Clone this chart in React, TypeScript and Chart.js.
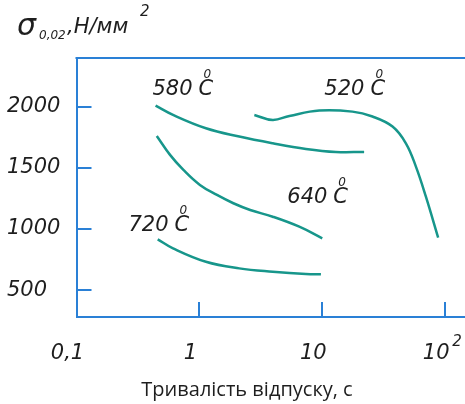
import React, { useEffect, useRef } from 'react';
import { Chart, registerables } from 'chart.js';

Chart.register(...registerables);

// ---- data ----
const xTickValues = [0.1, 1, 10, 100];
const xTickLabels = ['0,1', '1', '10', '10'];
const yTickValues = [500, 1000, 1500, 2000];
const yTickLabels = ['500', '1000', '1500', '2000'];

const c580x = [0.44, 0.61, 1.13, 2.11, 3.95, 7.36, 12.9, 21.9];
const c580y = [2010, 1934, 1825, 1757, 1702, 1656, 1631, 1631];

const c520x = [2.8, 3.95, 5.4, 9.46, 17.6, 25.6, 37.3, 47.9, 57.8, 69.7, 87.7];
const c520y = [1934, 1893, 1926, 1970, 1961, 1921, 1839, 1702, 1511, 1265, 929];

const c640x = [0.45, 0.577, 0.741, 1.01, 1.39, 1.89, 2.59, 3.95, 6.5, 10.0];
const c640y = [1762, 1607, 1484, 1361, 1279, 1211, 1156, 1101, 1019, 924];

const c720x = [0.458, 0.61, 1.13, 2.11, 3.95, 7.36, 9.75];
const c720y = [916, 842, 732, 678, 650, 631, 629];

const curveLabels = ['580', '520', '640', '720'];
const labelX = [0.415, 10.4, 5.19, 0.265];
const labelY = [2098, 2098, 1213, 984];

const yTitleMain = 'σ';
const yTitleSub = '0,02';
const yTitleUnit = ',Н/мм';
const yTitleSup = '2';
const xTitle = 'Тривалість відпуску, с';

const AXIS = '#2a80d6';
const CURVE = '#17968b';
const TEXT = '#1e1e1e';
const ITALIC = 'italic 21px "DejaVu Sans"';

const toPts = (xs: number[], ys: number[]) => xs.map((x, i) => ({ x, y: ys[i] }));

const decorPlugin = {
  id: 'decor',
  afterDraw(chart: any) {
    const { ctx, chartArea, scales } = chart;
    const xs = scales.x;
    const ys = scales.y;
    ctx.save();
    // top border
    ctx.strokeStyle = AXIS;
    ctx.lineWidth = 2;
    ctx.beginPath();
    ctx.moveTo(chartArea.left - 1, chartArea.top);
    ctx.lineTo(chartArea.right, chartArea.top);
    ctx.stroke();
    // inward ticks
    ctx.beginPath();
    xTickValues.slice(1).forEach((v) => {
      const px = Math.round(xs.getPixelForValue(v));
      ctx.moveTo(px, chartArea.bottom);
      ctx.lineTo(px, chartArea.bottom - 15);
    });
    yTickValues.forEach((v) => {
      const py = Math.round(ys.getPixelForValue(v));
      ctx.moveTo(chartArea.left, py);
      ctx.lineTo(chartArea.left + 15, py);
    });
    ctx.stroke();

    // superscript on 10^2
    ctx.fillStyle = TEXT;
    ctx.textBaseline = 'alphabetic';
    ctx.textAlign = 'left';
    ctx.font = 'italic 15px "DejaVu Sans"';
    const p100 = xs.getPixelForValue(100);
    ctx.fillText('2', p100 + 7, 346);

    // curve labels
    curveLabels.forEach((t, i) => {
      const px = xs.getPixelForValue(labelX[i]);
      const py = ys.getPixelForValue(labelY[i]);
      ctx.font = ITALIC;
      ctx.fillText(t, px, py);
      const w = ctx.measureText(t).width;
      ctx.font = 'italic 12px "DejaVu Sans"';
      ctx.fillText('0', px + w + 11, py - 17);
      ctx.font = 'italic 21px "DejaVu Sans"';
      ctx.fillText('C', px + w + 6, py);
    });

    // y title
    ctx.font = 'italic 30px "DejaVu Sans"';
    ctx.fillText(yTitleMain, 17, 35);
    ctx.font = 'italic 12px "DejaVu Sans"';
    ctx.fillText(yTitleSub, 39, 39);
    ctx.font = 'italic 21px "DejaVu Sans"';
    ctx.fillText(yTitleUnit, 67, 33);
    ctx.font = 'italic 15px "DejaVu Sans"';
    ctx.fillText(yTitleSup, 140, 16);

    // x title
    ctx.font = '20px "Open Sans"';
    ctx.textAlign = 'center';
    ctx.fillText(xTitle, 247, 396);
    ctx.restore();
  },
};

export default function App() {
  const ref = useRef<HTMLCanvasElement | null>(null);
  useEffect(() => {
    document.body.style.margin = '0';
    const canvas = ref.current;
    if (!canvas) return;
    const ds = (xs: number[], ys: number[]) => ({
      data: toPts(xs, ys),
      borderColor: CURVE,
      borderWidth: 2.5,
      pointRadius: 0,
      fill: false,
      tension: 0.4,
    });
    const chart = new Chart(canvas, {
      type: 'line',
      data: {
        datasets: [ds(c580x, c580y), ds(c520x, c520y), ds(c640x, c640y), ds(c720x, c720y)],
      },
      options: {
        animation: false,
        responsive: false,
        maintainAspectRatio: false,
        layout: { padding: { left: 7, top: 58, right: 0, bottom: 0 } },
        plugins: { legend: { display: false }, tooltip: { enabled: false } },
        scales: {
          x: {
            type: 'logarithmic',
            min: 0.1,
            max: 145,
            afterBuildTicks: (s: any) => {
              s.ticks = xTickValues.map((v) => ({ value: v }));
            },
            afterFit: (s: any) => {
              s.height = 404 - 317;
              s.paddingLeft = 0;
              s.paddingRight = 0;
            },
            grid: { display: false, drawTicks: false },
            border: { display: true, color: AXIS, width: 2 },
            ticks: {
              autoSkip: false,
              maxRotation: 0,
              padding: 24,
              labelOffset: -9,
              color: TEXT,
              font: { family: '"DejaVu Sans"', style: 'italic', size: 21 },
              callback: (v: any) => {
                const i = xTickValues.indexOf(Number(v));
                return i >= 0 ? xTickLabels[i] : '';
              },
            },
          },
          y: {
            type: 'linear',
            min: 280,
            max: 2400,
            afterBuildTicks: (s: any) => {
              s.ticks = yTickValues.map((v) => ({ value: v }));
            },
            afterFit: (s: any) => {
              s.width = 69.5;
              s.paddingTop = 0;
              s.paddingBottom = 0;
            },
            grid: { display: false, drawTicks: false },
            border: { display: true, color: AXIS, width: 2 },
            ticks: {
              crossAlign: 'far',
              color: TEXT,
              font: { family: '"DejaVu Sans"', style: 'italic', size: 21 },
              callback: (v: any) => {
                const i = yTickValues.indexOf(Number(v));
                return i >= 0 ? yTickLabels[i] : '';
              },
            },
          },
        },
      },
      plugins: [decorPlugin],
    });
    return () => chart.destroy();
  }, []);
  return <canvas ref={ref} width={465} height={404} style={{ display: 'block', width: 465, height: 404 }} />;
}
